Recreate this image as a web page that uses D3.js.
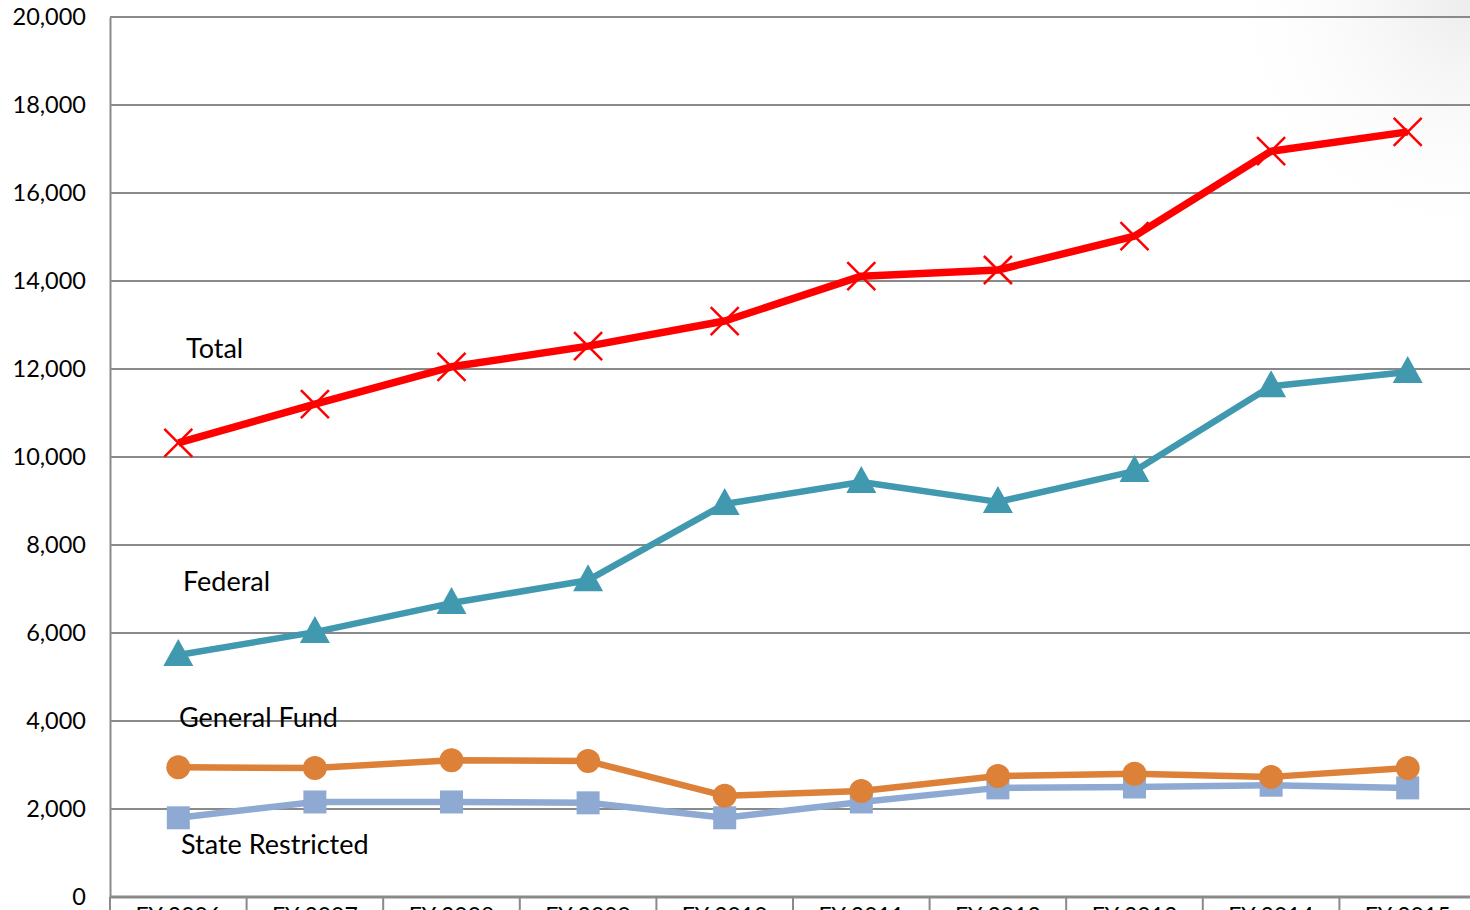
<!DOCTYPE html>
<html>
<head>
<meta charset="utf-8">
<script src="https://cdn.jsdelivr.net/npm/d3@7"></script>
<style>
  html, body { margin: 0; padding: 0; background: #fff; overflow: hidden; }
  text { font-family: Lato, "Open Sans", sans-serif; fill: #000; }
</style>
</head>
<body>
<svg id="chart" width="1470" height="910"></svg>
<script>
var years = ["FY 2006", "FY 2007", "FY 2008", "FY 2009", "FY 2010", "FY 2011", "FY 2012", "FY 2013", "FY 2014", "FY 2015"];
var yTicks = [0, 2000, 4000, 6000, 8000, 10000, 12000, 14000, 16000, 18000, 20000];

var total = [10320, 11200, 12050, 12520, 13090, 14110, 14250, 15020, 16950, 17390];
var federal = [5500, 6020, 6680, 7200, 8930, 9430, 8980, 9680, 11610, 11930];
var generalFund = [2950, 2930, 3110, 3090, 2300, 2410, 2750, 2800, 2730, 2930];
var stateRestricted = [1800, 2160, 2160, 2140, 1800, 2160, 2480, 2500, 2540, 2480];

var seriesNames = ["Total", "Federal", "General Fund", "State Restricted"];

var series = [
  {name: seriesNames[3], values: stateRestricted, color: "#8eaad2", width: 6.5, marker: "square", label: [181, 854]},
  {name: seriesNames[2], values: generalFund, color: "#dd8038", width: 6.5, marker: "circle", label: [179, 727]},
  {name: seriesNames[1], values: federal, color: "#4199b0", width: 6.5, marker: "triangle", label: [183, 591]},
  {name: seriesNames[0], values: total, color: "#ff0000", width: 7.5, marker: "x", label: [186, 358]}
];

var svg = d3.select("#chart");
var plotLeft = 110, plotTop = 17, plotBottom = 897, plotRight = 1476;

// faint shading in the top right corner
var defs = svg.append("defs");
var grad = defs.append("radialGradient").attr("id", "corner")
  .attr("cx", 1470).attr("cy", 0).attr("r", 260).attr("gradientUnits", "userSpaceOnUse");
grad.append("stop").attr("offset", "0%").attr("stop-color", "#ececec");
grad.append("stop").attr("offset", "100%").attr("stop-color", "#ffffff").attr("stop-opacity", 0);
svg.append("rect").attr("x", 1200).attr("y", 0).attr("width", 270).attr("height", 300).attr("fill", "url(#corner)");

var x = d3.scaleBand().domain(years).range([plotLeft, plotRight]);
var y = d3.scaleLinear().domain([0, 20000]).range([plotBottom, plotTop]);

// gridlines
svg.append("g").selectAll("line").data(yTicks.filter(function(d){ return d > 0; })).enter()
  .append("line")
  .attr("x1", plotLeft).attr("x2", 1470)
  .attr("y1", function(d){ return y(d); }).attr("y2", function(d){ return y(d); })
  .attr("stroke", "#8a8a8a").attr("stroke-width", 2);

// y axis
var yAxis = svg.append("g").attr("transform", "translate(" + plotLeft + ",0)")
  .call(d3.axisLeft(y).tickValues(yTicks).tickSize(0).tickPadding(24).tickFormat(d3.format(",")));
yAxis.select(".domain").attr("stroke", "#8a8a8a").attr("stroke-width", 2);
yAxis.selectAll("text").style("font-size", "23.5px").attr("font-family", "Lato, 'Open Sans', sans-serif").attr("fill", "#000");

// x axis (labels run past the bottom edge, as in the original)
var xAxis = svg.append("g").attr("transform", "translate(0," + plotBottom + ")")
  .call(d3.axisBottom(x).tickSize(0).tickPadding(11));
xAxis.select(".domain").remove();
xAxis.selectAll("text").style("font-size", "23px").attr("font-family", "Lato, 'Open Sans', sans-serif").attr("fill", "#000");
svg.append("line").attr("x1", plotLeft).attr("x2", 1470).attr("y1", plotBottom).attr("y2", plotBottom)
  .attr("stroke", "#8a8a8a").attr("stroke-width", 3);
svg.append("g").selectAll("line").data(years).enter().append("line")
  .attr("x1", function(d){ return x(d); }).attr("x2", function(d){ return x(d); })
  .attr("y1", plotBottom).attr("y2", 920)
  .attr("stroke", "#8a8a8a").attr("stroke-width", 2);

var cx = function(d, i){ return x(years[i]) + x.bandwidth() / 2; };
var line = d3.line().x(cx).y(function(d){ return y(d); });

series.forEach(function(s) {
  var g = svg.append("g");
  g.append("path").datum(s.values)
    .attr("d", line).attr("fill", "none")
    .attr("stroke", s.color).attr("stroke-width", s.width).attr("stroke-linejoin", "round");

  var m = g.selectAll(".m").data(s.values).enter().append("g")
    .attr("transform", function(d, i){ return "translate(" + cx(d, i) + "," + y(d) + ")"; });

  if (s.marker === "square") {
    m.append("rect").attr("x", -11.5).attr("y", -11.5).attr("width", 23).attr("height", 23).attr("fill", s.color);
  } else if (s.marker === "circle") {
    m.append("circle").attr("r", 12).attr("fill", s.color);
  } else if (s.marker === "triangle") {
    m.append("path").attr("d", "M0,-16L15,11L-15,11Z").attr("fill", s.color);
  } else {
    m.append("path").attr("d", "M-14,-14L14,14M-14,14L14,-14")
      .attr("stroke", s.color).attr("stroke-width", 2.5).attr("fill", "none");
  }

  svg.append("text").attr("x", s.label[0]).attr("y", s.label[1])
    .style("font-size", "27px").text(s.name);
});
</script>
</body>
</html>
